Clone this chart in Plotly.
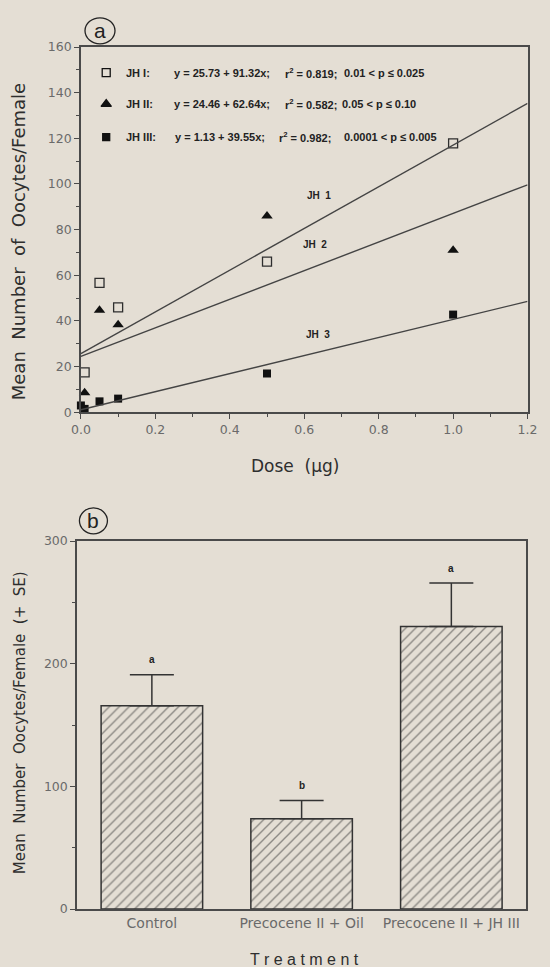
import plotly.graph_objects as go

# ---------------- data ----------------
dose_jh1 = [0.01, 0.05, 0.1, 0.5, 1.0]
oocytes_jh1 = [17.5, 56.7, 46.0, 66.0, 117.8]

dose_jh2 = [0.01, 0.05, 0.1, 0.5, 1.0]
oocytes_jh2 = [8.6, 44.7, 38.4, 86.0, 71.0]

dose_jh3 = [0.0, 0.01, 0.05, 0.1, 0.5, 1.0]
oocytes_jh3 = [3.0, 1.5, 4.8, 6.0, 17.0, 42.8]

reg_names = ["JH I:", "JH II:", "JH III:"]
reg_intercepts = [25.73, 24.46, 1.13]
reg_slopes = [91.32, 62.64, 39.55]
reg_eq = ["y = 25.73 + 91.32x;", "y = 24.46 + 62.64x;", "y = 1.13 + 39.55x;"]
reg_r2 = ["r<sup>2</sup> = 0.819;", "r<sup>2</sup> = 0.582;", "r<sup>2</sup> = 0.982;"]
reg_p = ["0.01 < p ≤ 0.025", "0.05 < p ≤ 0.10", "0.0001 < p ≤ 0.005"]
line_labels = ["JH  1", "JH  2", "JH  3"]
dose_range = [0.0, 1.2]

treatments = ["Control", "Precocene II + Oil", "Precocene II + JH III"]
treat_means = [165.7, 73.6, 230.4]
treat_se = [25.3, 14.9, 35.3]
treat_letters = ["a", "b", "a"]

# ---------------- positions / style ----------------
key_x = 0.068
name_x = 0.1145
eq_x = [0.2455, 0.2455, 0.2475]
r2_x = [0.5437, 0.5437, 0.527]
p_x = [0.7005, 0.696, 0.7005]
key_y = [148.8, 135.0, 120.5]
line_label_xy = [(0.64, 95), (0.63, 73.5), (0.636, 34)]

BG = "#e4ded4"
INK = "#2e2e2e"
AX = "#4a4a4a"
TICK = "#6a6a6a"
FONT = "Liberation Sans, Arial, sans-serif"
WIDE = "DejaVu Sans, Verdana, sans-serif"

fig = go.Figure()

fig.add_trace(go.Scatter(x=dose_jh1, y=oocytes_jh1, mode="markers", xaxis="x", yaxis="y",
                         marker=dict(symbol="square-open", size=9, color=INK, line=dict(width=1.3, color=INK)),
                         showlegend=False, cliponaxis=False))
fig.add_trace(go.Scatter(x=dose_jh2, y=oocytes_jh2, mode="markers", xaxis="x", yaxis="y",
                         marker=dict(symbol="triangle-up", size=10, color="#111111"),
                         showlegend=False, cliponaxis=False))
fig.add_trace(go.Scatter(x=dose_jh3, y=oocytes_jh3, mode="markers", xaxis="x", yaxis="y",
                         marker=dict(symbol="square", size=8, color="#111111"),
                         showlegend=False, cliponaxis=False))

for b0, b1 in zip(reg_intercepts, reg_slopes):
    fig.add_trace(go.Scatter(x=dose_range, y=[b0 + b1 * d for d in dose_range], mode="lines",
                             xaxis="x", yaxis="y", line=dict(color="#444444", width=1.4),
                             showlegend=False, hoverinfo="skip"))

key_symbols = ["square-open", "triangle-up", "square"]
key_sizes = [8, 9, 7]
for sym, sz, yy in zip(key_symbols, key_sizes, key_y):
    fig.add_trace(go.Scatter(x=[key_x], y=[yy], mode="markers", xaxis="x", yaxis="y",
                             marker=dict(symbol=sym, size=sz, color="#111111",
                                         line=dict(width=1.3, color="#111111")),
                             showlegend=False, hoverinfo="skip"))

fig.add_trace(go.Bar(x=treatments, y=treat_means, xaxis="x2", yaxis="y2", width=0.678,
                     marker=dict(color=BG, line=dict(color="#333333", width=1.5),
                                 pattern=dict(shape="/", fgcolor="#333333", bgcolor=BG,
                                              size=7, solidity=0.2)),
                     error_y=dict(type="data", symmetric=False, array=treat_se,
                                  arrayminus=[0, 0, 0], color="#333333", thickness=1.5, width=22),
                     showlegend=False))

small = dict(family=FONT, size=11, color="#222222", weight="bold")
annotations = []
for i in range(3):
    for xx, txt in ((name_x, reg_names[i]), (eq_x[i], reg_eq[i]), (r2_x[i], reg_r2[i]), (p_x[i], reg_p[i])):
        annotations.append(dict(x=xx, y=key_y[i], xref="x", yref="y", text=txt, showarrow=False,
                                xanchor="left", yanchor="middle", font=small))
for lab, (lx, ly) in zip(line_labels, line_label_xy):
    annotations.append(dict(x=lx, y=ly, xref="x", yref="y", text=lab, showarrow=False,
                            xanchor="center", yanchor="middle",
                            font=dict(family=FONT, size=10, color="#222222", weight="bold")))
for cat, m, se, let in zip(treatments, treat_means, treat_se, treat_letters):
    annotations.append(dict(x=cat, y=m + se + 6, xref="x2", yref="y2", text=let, showarrow=False,
                            xanchor="center", yanchor="bottom",
                            font=dict(family=FONT, size=10, color="#222222", weight="bold")))

def pa(x, y, text, font, angle=0):
    return dict(x=x, y=y, xref="paper", yref="paper", text=text, textangle=angle, showarrow=False,
                xanchor="center", yanchor="middle", font=font)

# paper width = 550 - 77 - 4 = 469 ; paper height = 862
annotations += [
    pa(-0.1258, 0.7738, "Mean\u00a0\u00a0Number\u00a0\u00a0of\u00a0\u00a0Oocytes/Female",
       dict(family=WIDE, size=18, color=INK), -90),
    pa(0.4755, 0.5139, "Dose\u00a0\u00a0(µg)", dict(family=WIDE, size=17, color=INK)),
    pa(-0.1237, 0.2158, "Mean\u00a0\u00a0Number\u00a0\u00a0Oocytes/Female\u00a0\u00a0(+\u00a0\u00a0SE)",
       dict(family=WIDE, size=15, color=INK), -90),
    pa(0.496, -0.0584, "T r e a t m e n t", dict(family=FONT, size=16, color=INK)),
    pa(0.0501, 1.0188, "a", dict(family=FONT, size=21, color="#222222")),
    pa(0.0358, 0.4503, "b", dict(family=FONT, size=21, color="#222222")),
]

shapes = [
    dict(type="circle", xref="paper", yref="paper", xsizemode="pixel", ysizemode="pixel",
         xanchor=0.0501, yanchor=1.0188, x0=-15, x1=15, y0=-13, y1=13,
         line=dict(color="#222222", width=1.3)),
    dict(type="circle", xref="paper", yref="paper", xsizemode="pixel", ysizemode="pixel",
         xanchor=0.0358, yanchor=0.4503, x0=-14, x1=14, y0=-13, y1=13,
         line=dict(color="#222222", width=1.3)),
]

axis_common = dict(showline=True, linecolor=AX, linewidth=1.5, mirror=True, showgrid=False,
                   zeroline=False, tickfont=dict(family=WIDE, size=12.5, color=TICK),
                   ticks="outside", tickcolor=AX, ticklen=5, tickwidth=1.2)

fig.update_layout(
    width=550, height=967, autosize=False,
    margin=dict(l=77, r=4, t=47, b=58),
    paper_bgcolor=BG, plot_bgcolor=BG,
    font=dict(family=FONT, color=INK),
    annotations=annotations, shapes=shapes,
    xaxis=dict(domain=[0.0085, 0.9816], anchor="y", range=[0, 1.2], dtick=0.2, tickformat=".1f",
               minor=dict(dtick=0.1, ticks="outside", ticklen=3, tickcolor=AX), **axis_common),
    yaxis=dict(domain=[0.5762, 1.0], anchor="x", range=[0, 160], dtick=20,
               minor=dict(dtick=10, ticks="outside", ticklen=3, tickcolor=AX), **axis_common),
    xaxis2=dict(domain=[0.0, 0.9787], anchor="y2", range=[-0.5, 2.5],
                **{**axis_common, "ticks": "", "tickfont": dict(family=WIDE, size=14, color=TICK)}),
    yaxis2=dict(domain=[0.0, 0.4269], anchor="x2", range=[0, 300], dtick=100,
                minor=dict(dtick=50, ticks="outside", ticklen=3, tickcolor=AX), **axis_common),
)

fig.write_html("out.html", config={"displayModeBar": False, "responsive": False},
               post_script=("document.body.style.margin='0';document.body.style.overflow='hidden';"
                            "document.documentElement.style.overflow='hidden';"
                            "document.body.style.background='%s';" % BG))
